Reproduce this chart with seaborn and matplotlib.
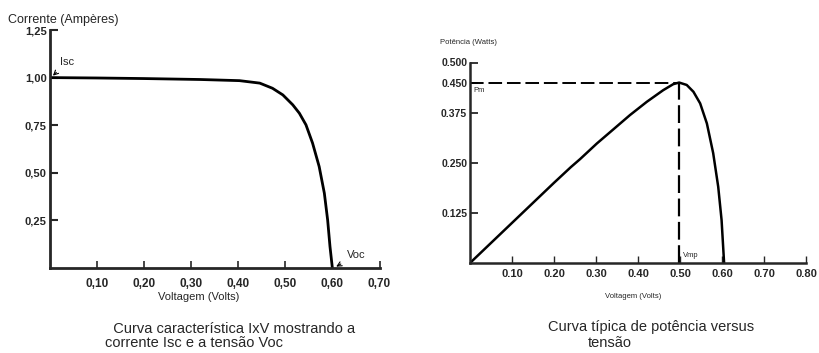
import matplotlib
matplotlib.use("Agg")
import matplotlib.pyplot as plt
import seaborn as sns
import pandas as pd

# curva I x V
tensao_iv = [0.0, 0.10, 0.20, 0.32, 0.403, 0.446, 0.473, 0.495, 0.516, 0.530, 0.544,
             0.558, 0.572, 0.583, 0.590, 0.595, 0.600]
corrente = [1.0, 0.998, 0.995, 0.99, 0.984, 0.971, 0.944, 0.909, 0.857, 0.813, 0.752,
            0.656, 0.533, 0.393, 0.252, 0.112, 0.0]
yticks_iv = [0.25, 0.50, 0.75, 1.00, 1.25]
ylabels_iv = ["0,25", "0,50", "0,75", "1,00", "1,25"]
xticks_iv = [0.10, 0.20, 0.30, 0.40, 0.50, 0.60, 0.70]
xlabels_iv = ["0,10", "0,20", "0,30", "0,40", "0,50", "0,60", "0,70"]

# curva de potencia
tensao_p = [0.0, 0.10, 0.20, 0.24, 0.262, 0.302, 0.341, 0.381, 0.421, 0.460, 0.484, 0.498,
            0.516, 0.532, 0.548, 0.564, 0.579, 0.591, 0.599, 0.605]
potencia = [0.0, 0.10, 0.20, 0.239, 0.259, 0.298, 0.333, 0.369, 0.402, 0.431, 0.446, 0.45,
            0.444, 0.427, 0.398, 0.348, 0.274, 0.19, 0.107, 0.0]
yticks_p = [0.125, 0.250, 0.375, 0.450, 0.500]
ylabels_p = ["0.125", "0.250", "0.375", "0.450", "0.500"]
xticks_p = [0.10, 0.20, 0.30, 0.40, 0.50, 0.60, 0.70, 0.80]
xlabels_p = ["0.10", "0.20", "0.30", "0.40", "0.50", "0.60", "0.70", "0.80"]
vmp, pm = 0.497, 0.45


def px(x, y):
    return x / 819, 1 - y / 353


def main():
    sns.set_style("ticks")
    plt.rcParams['font.family'] = ['Liberation Sans', 'DejaVu Sans']

    fig = plt.figure(figsize=(8.19, 3.53), dpi=100)

    # --- grafico I x V ---
    ax1 = fig.add_axes([49.5 / 819, 1 - 268 / 353, 330 / 819, (268 - 30) / 353])
    df_iv = pd.DataFrame({'V': tensao_iv, 'I': corrente})
    sns.lineplot(data=df_iv, x='V', y='I', ax=ax1, color='black', linewidth=2, sort=False)
    ax1.set_xlim(0, 0.70)
    ax1.set_ylim(0, 1.25)
    ax1.set_yticks(yticks_iv, ylabels_iv, fontweight='bold', fontsize=8)
    ax1.set_xticks(xticks_iv, xlabels_iv, fontweight='bold', fontsize=8.5)
    ax1.tick_params(axis='y', direction='in', length=6, width=1.5, pad=2)
    ax1.tick_params(axis='x', direction='in', length=5, width=1.2, pad=7)
    ax1.set_xlabel('')
    ax1.set_ylabel('')
    sns.despine(ax=ax1)
    for s in ('left', 'bottom'):
        ax1.spines[s].set_linewidth(2)
    ax1.annotate('Isc', xy=(0.003, 1.0), xytext=(0.022, 1.065), fontsize=8,
                 arrowprops=dict(arrowstyle='->', color='black', lw=0.8))
    ax1.annotate('Voc', xy=(0.603, 0.0), xytext=(0.63, 0.05), fontsize=8,
                 arrowprops=dict(arrowstyle='->', color='black', lw=0.8))

    fig.text(*px(8, 20), 'Corrente (Ampères)', fontsize=9, va='center', ha='left')
    fig.text(*px(199, 297), 'Voltagem (Volts)', fontsize=8, va='center', ha='center')
    fig.text(*px(105, 336), '  Curva característica IxV mostrando a\ncorrente Isc e a tensão Voc',
             fontsize=10.5, va='center', ha='left', linespacing=1.05)

    # --- grafico de potencia ---
    ax2 = fig.add_axes([470 / 819, 1 - 263 / 353, 336 / 819, 200.5 / 353])
    df_p = pd.DataFrame({'V': tensao_p, 'P': potencia})
    sns.lineplot(data=df_p, x='V', y='P', ax=ax2, color='black', linewidth=1.8, sort=False)
    ax2.plot([0, vmp], [pm, pm], color='black', linestyle=(0, (7, 2.5)), linewidth=1.4)
    ax2.plot([vmp, vmp], [0, pm], color='black', linestyle=(0, (8, 2.5)), linewidth=1.6)
    ax2.set_xlim(0, 0.80)
    ax2.set_ylim(0, 0.50)
    ax2.set_yticks(yticks_p, ylabels_p, fontweight='bold', fontsize=7.5)
    ax2.set_xticks(xticks_p, xlabels_p, fontweight='bold', fontsize=8)
    ax2.tick_params(axis='y', direction='in', length=6, width=1.3, pad=2)
    ax2.tick_params(axis='x', direction='in', length=5, width=1, pad=4)
    ax2.set_xlabel('')
    ax2.set_ylabel('')
    sns.despine(ax=ax2)
    for s in ('left', 'bottom'):
        ax2.spines[s].set_linewidth(1.8)
    ax2.text(0.008, pm - 0.01, 'Pm', fontsize=5.5, va='top', ha='left')
    ax2.text(vmp + 0.01, 0.018, 'Vmp', fontsize=5.5, va='center', ha='left')

    fig.text(*px(440, 42), 'Potência (Watts)', fontsize=5.5, va='center', ha='left')
    fig.text(*px(633, 297), 'Voltagem (Volts)', fontsize=5.5, va='center', ha='center')
    fig.text(*px(548, 327), 'Curva típica de potência versus', fontsize=10.5, va='center', ha='left')
    fig.text(*px(588, 343), 'tensão', fontsize=10.5, va='center', ha='left')

    plt.savefig('out.png', dpi=100)


if __name__ == '__main__':
    main()
